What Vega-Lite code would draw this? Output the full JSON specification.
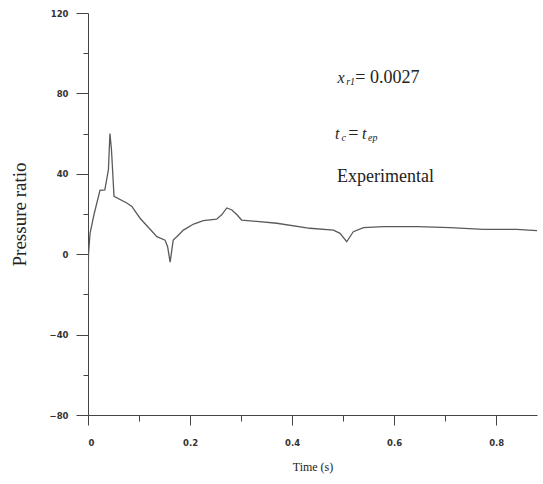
{
  "$schema": "https://vega.github.io/schema/vega-lite/v6.json",
  "autosize": {"type": "none"},
  "width": 449,
  "height": 402,
  "padding": {"left": 88, "top": 13, "right": 6, "bottom": 69},
  "background": "white",
  "config": {
    "view": {"stroke": null},
    "axis": {"grid": false, "domainColor": "#444", "tickColor": "#444", "labelFont": "DejaVu Sans", "labelFontWeight": "bold", "labelFontSize": 8.5, "labelColor": "#333", "titleFont": "Liberation Serif", "titleFontWeight": "normal", "titleColor": "#222"}
  },
  "datasets": {
    "curve": [
      {"t": 0.0, "p": -20},
      {"t": 0.001, "p": 0},
      {"t": 0.004, "p": 10.4},
      {"t": 0.012, "p": 20},
      {"t": 0.0235, "p": 31.8},
      {"t": 0.033, "p": 32},
      {"t": 0.04, "p": 42},
      {"t": 0.043, "p": 60},
      {"t": 0.046, "p": 52},
      {"t": 0.051, "p": 28.8},
      {"t": 0.076, "p": 25.5},
      {"t": 0.086, "p": 23.8},
      {"t": 0.102, "p": 17.9},
      {"t": 0.135, "p": 8.7},
      {"t": 0.151, "p": 7},
      {"t": 0.156, "p": 3.7},
      {"t": 0.161, "p": -3.9},
      {"t": 0.167, "p": 7},
      {"t": 0.174, "p": 8.7},
      {"t": 0.187, "p": 12},
      {"t": 0.207, "p": 15},
      {"t": 0.226, "p": 16.7},
      {"t": 0.252, "p": 17.4},
      {"t": 0.262, "p": 19.6},
      {"t": 0.272, "p": 23},
      {"t": 0.282, "p": 22},
      {"t": 0.292, "p": 19.6},
      {"t": 0.301, "p": 17},
      {"t": 0.37, "p": 15.4},
      {"t": 0.435, "p": 12.9},
      {"t": 0.481, "p": 12},
      {"t": 0.494, "p": 10.4},
      {"t": 0.507, "p": 6.2},
      {"t": 0.52, "p": 11.2},
      {"t": 0.54, "p": 13.2},
      {"t": 0.579, "p": 13.7},
      {"t": 0.645, "p": 13.7},
      {"t": 0.71, "p": 13.2},
      {"t": 0.775, "p": 12.4},
      {"t": 0.84, "p": 12.4},
      {"t": 0.883, "p": 11.7}
    ],
    "italicText": [
      {"t": 0.489, "p": 87.6, "label": "x"},
      {"t": 0.484, "p": 60, "label": "t"},
      {"t": 0.537, "p": 60, "label": "t"}
    ],
    "normalText": [
      {"t": 0.524, "p": 87.6, "label": "= 0.0027"},
      {"t": 0.510, "p": 60, "label": "="},
      {"t": 0.488, "p": 38.3, "label": "Experimental"}
    ],
    "subText": [
      {"t": 0.506, "p": 87.6, "label": "r1"},
      {"t": 0.497, "p": 60, "label": "c"},
      {"t": 0.549, "p": 60, "label": "ep"}
    ]
  },
  "layer": [
    {
      "data": {"name": "curve"},
      "mark": {"type": "line", "color": "#5a5a5a", "strokeWidth": 1.3, "clip": true},
      "encoding": {
        "x": {"field": "t", "type": "quantitative", "scale": {"domain": [0, 0.88], "nice": false, "zero": false},
          "axis": {"title": "Time (s)", "titleFontSize": 12, "titlePadding": 15, "values": [0, 0.1, 0.2, 0.3, 0.4, 0.5, 0.6, 0.7, 0.8],
            "labelExpr": "abs(datum.value*5 - round(datum.value*5)) < 0.001 ? (datum.value == 0 ? '0' : format(datum.value, '.1f')) : ''",
            "tickSize": {"condition": {"test": "abs(datum.value*5 - round(datum.value*5)) < 0.001", "value": 10}, "value": 6},
            "labelPadding": 13}},
        "y": {"field": "p", "type": "quantitative", "scale": {"domain": [-80, 120], "nice": false},
          "axis": {"title": "Pressure ratio", "titleFontSize": 19, "titlePadding": 20, "values": [-80, -60, -40, -20, 0, 20, 40, 60, 80, 100, 120],
            "labelExpr": "datum.value % 40 == 0 ? format(datum.value, 'd') : ''",
            "tickSize": {"condition": {"test": "datum.value % 40 == 0", "value": 12}, "value": 5},
            "labelPadding": 8}}
      }
    },
    {
      "data": {"name": "italicText"},
      "mark": {"type": "text", "align": "left", "baseline": "middle", "font": "Liberation Serif", "fontStyle": "italic", "fontSize": 16, "color": "#222"},
      "encoding": {
        "x": {"field": "t", "type": "quantitative"},
        "y": {"field": "p", "type": "quantitative"},
        "text": {"field": "label"}
      }
    },
    {
      "data": {"name": "normalText"},
      "mark": {"type": "text", "align": "left", "baseline": "middle", "font": "Liberation Serif", "fontSize": 18, "color": "#222"},
      "encoding": {
        "x": {"field": "t", "type": "quantitative"},
        "y": {"field": "p", "type": "quantitative"},
        "text": {"field": "label"}
      }
    },
    {
      "data": {"name": "subText"},
      "mark": {"type": "text", "align": "left", "baseline": "middle", "font": "Liberation Serif", "fontStyle": "italic", "fontSize": 10, "dy": 4, "color": "#222"},
      "encoding": {
        "x": {"field": "t", "type": "quantitative"},
        "y": {"field": "p", "type": "quantitative"},
        "text": {"field": "label"}
      }
    }
  ]
}
